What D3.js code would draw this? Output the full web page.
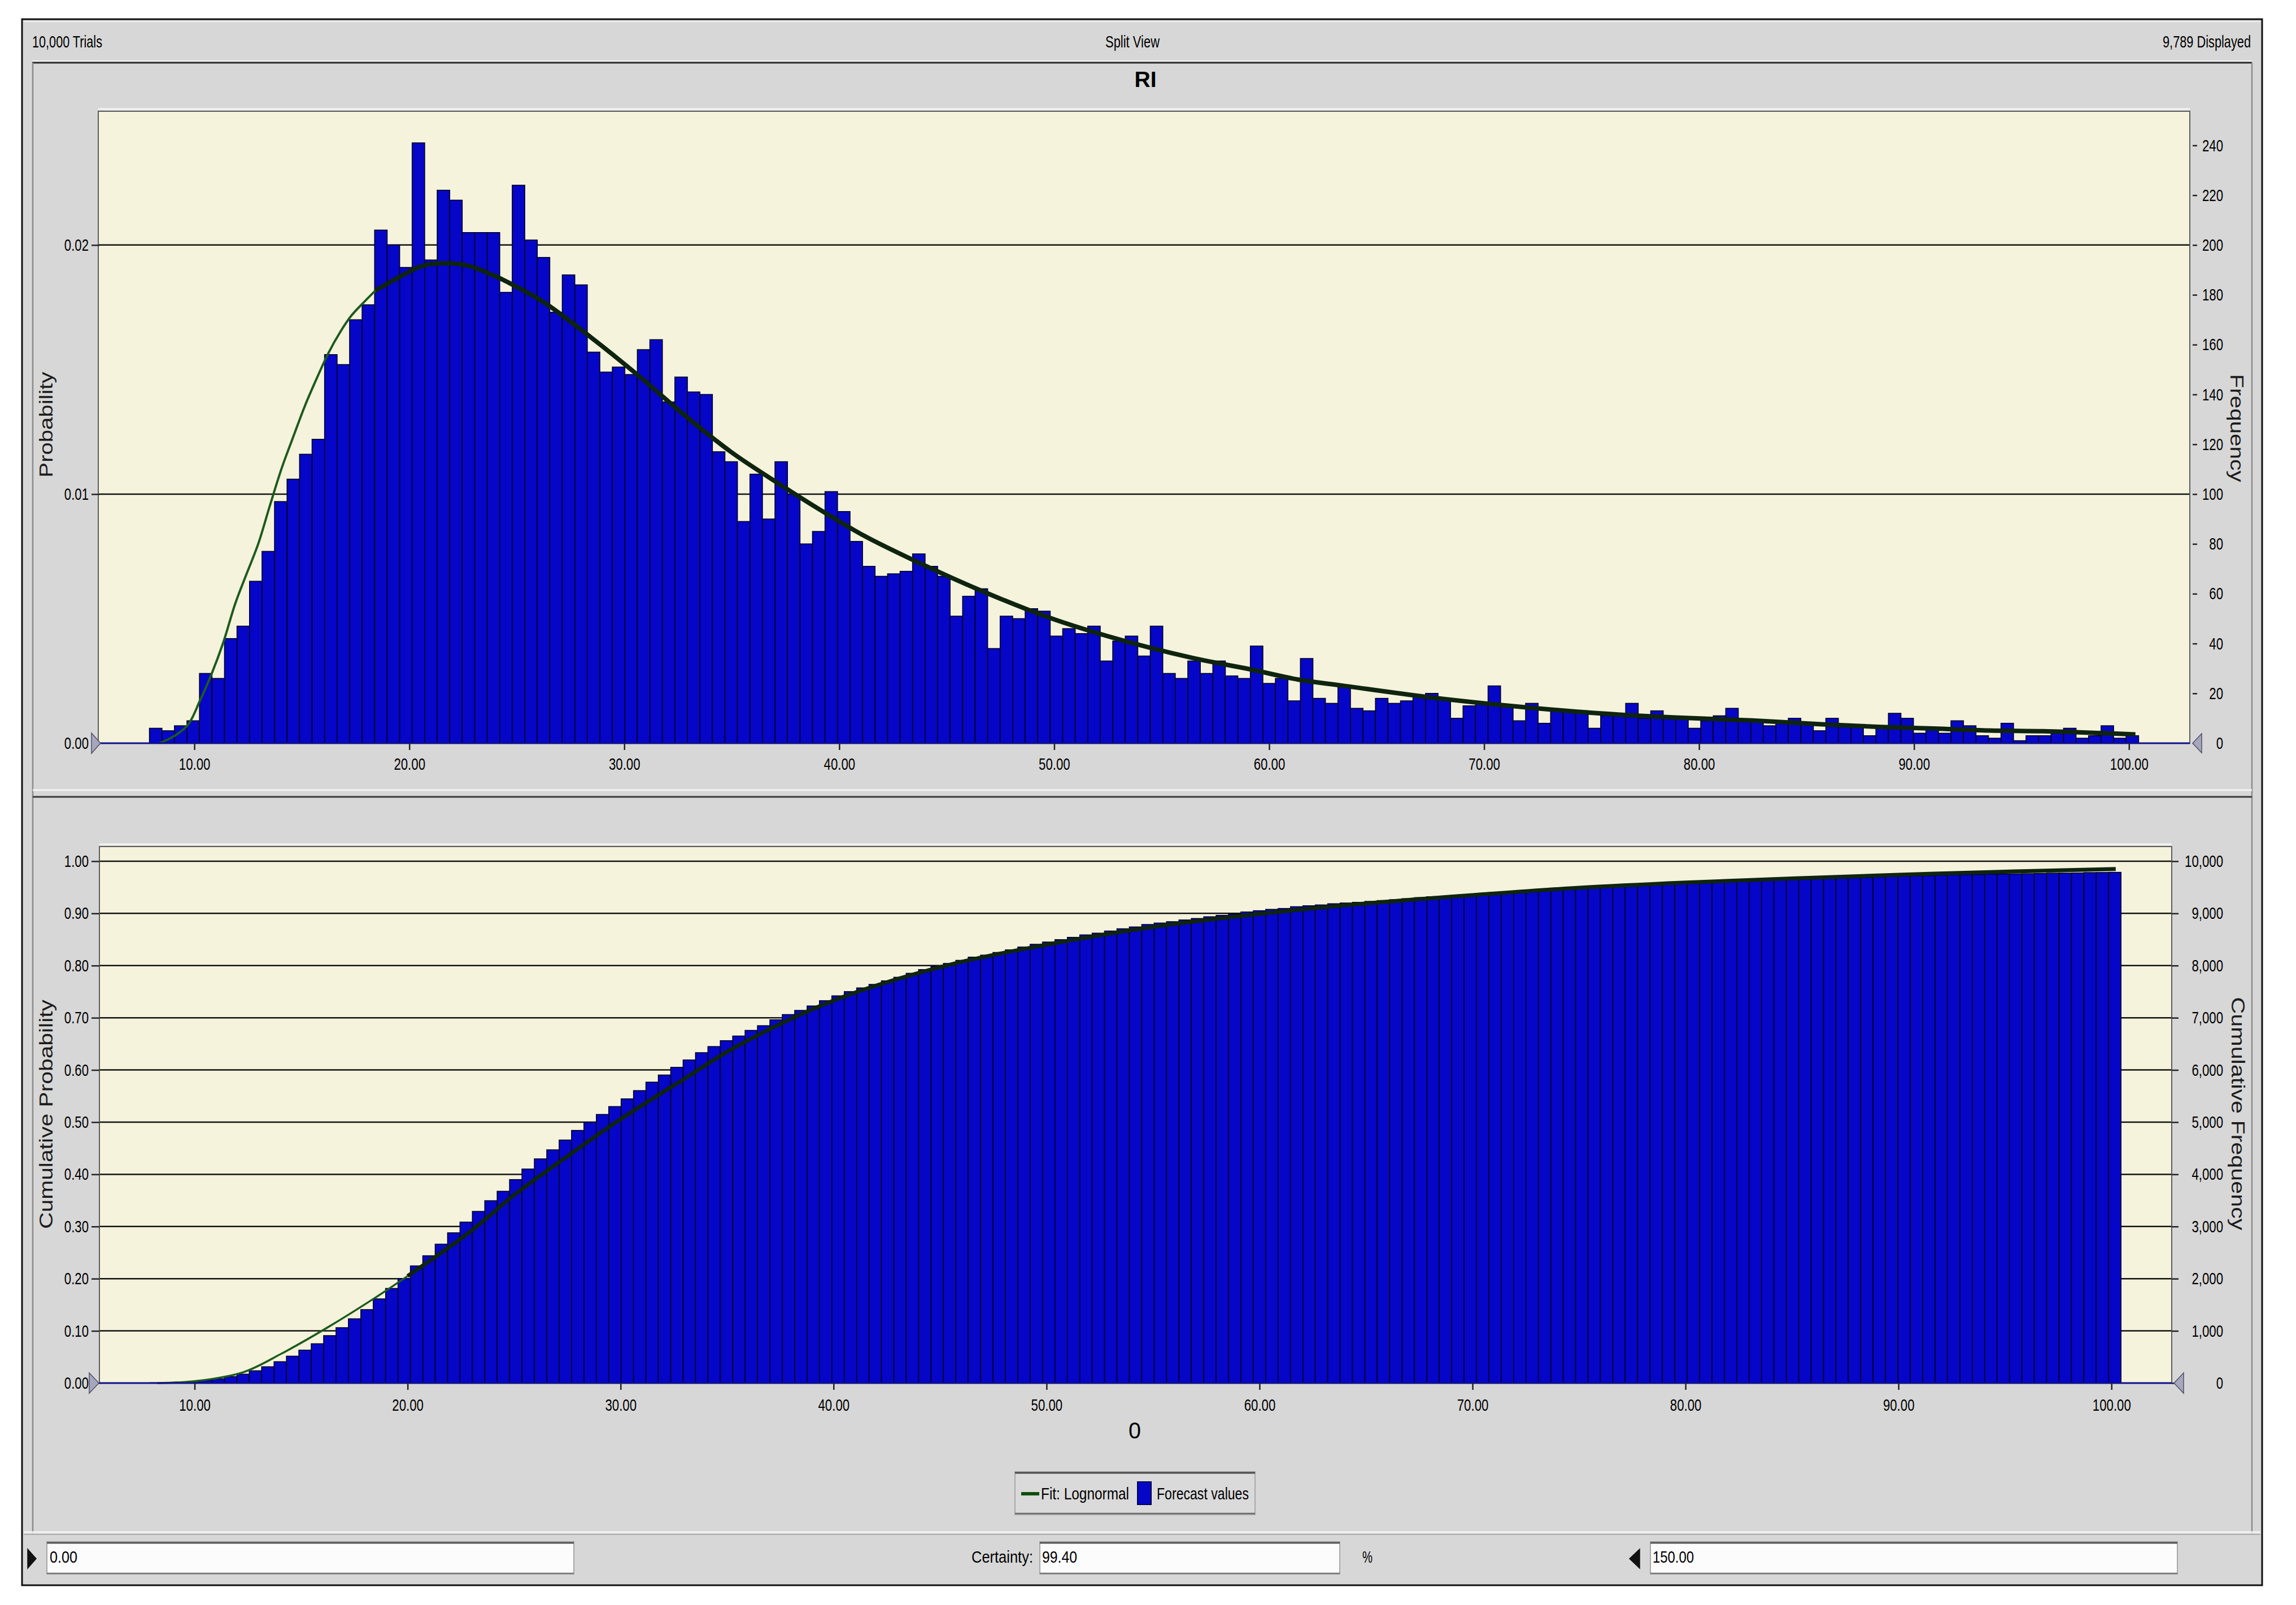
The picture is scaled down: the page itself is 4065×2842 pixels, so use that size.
<!DOCTYPE html>
<html><head><meta charset="utf-8">
<script src="https://cdn.jsdelivr.net/npm/d3@7"></script>
<style>
html,body{margin:0;padding:0;background:#fff;}
svg{display:block;}
text{font-family:"Liberation Sans",Arial,Helvetica,sans-serif;}
</style>
</head><body>
<svg id="c" width="4065" height="2842"></svg>
<script>
// ---------------- DATA ----------------
const headerLeft = "10,000 Trials";
const headerMid = "Split View";
const headerRight = "9,789 Displayed";
const chartTitle = "RI";
const xAxisTitle = "0";
const legendLabels = ["Fit: Lognormal", "Forecast values"];
const certaintyLabel = "Certainty:";
const lowerValue = "0.00";
const certaintyValue = "99.40";
const upperValue = "150.00";

const binStart = 7.91;
const binWidth = 0.582;
const counts = [
  6,5,7,9,28,26,42,47,65,77,97,106,116,122,156,152,170,176,206,200,191,241,194,222,218,205,205,205,181,
  224,202,195,173,188,184,157,149,151,148,158,162,137,147,141,140,117,113,89,108,90,113,100,80,85,101,93,81,71,
  67,68,69,76,71,67,51,59,62,38,51,50,54,53,43,46,44,47,33,41,43,35,47,28,26,33,28,33,27,26,39,24,26,17,
  34,18,16,23,14,13,18,16,17,19,20,18,10,15,16,23,15,9,16,8,13,13,13,6,11,11,16,10,13,10,10,6,9,11,
  14,9,9,7,8,10,8,5,10,7,7,3,7,12,10,4,6,4,9,7,3,2,8,1,3,3,4,6,2,3,7,2,3
];

const xTicks = [10,20,30,40,50,60,70,80,90,100];
const probTicksTop = [0, 0.01, 0.02];
const freqTicksTop = [0,20,40,60,80,100,120,140,160,180,200,220,240];
const cumProbTicks = [0,0.1,0.2,0.3,0.4,0.5,0.6,0.7,0.8,0.9,1.0];
const cumFreqTicks = [0,1000,2000,3000,4000,5000,6000,7000,8000,9000,10000];

// Lognormal fit curve, probability per bin
const fitPdfX = [8.37,9.05,9.71,10.25,10.8,11.34,11.9,12.43,12.97,13.5,14.07,14.6,15.15,15.7,16.24,16.78,17.3,17.88,18.42,19.5,20.6,21.69,22.77,23.86,24.6,26.26,28.44,30.6,32.8,34.97,37.15,39.3,41.15,43.3,46.53,49.74,52.96,56.45,59.1,61.38,63.43,67.3,71.17,75.04,78.9,82.5,85.7,88.3,90.9,93.5,96.0,98.6,100.3];
const fitPdfProb = [0,0.00028,0.00075,0.00169,0.00278,0.00403,0.0056,0.0068,0.0080,0.0095,0.01106,0.0123,0.01356,0.01466,0.01567,0.0165,0.01716,0.0177,0.01817,0.0187,0.01916,0.01927,0.01916,0.0188,0.0185,0.0177,0.0163,0.0148,0.01317,0.01169,0.01044,0.00927,0.00833,0.00741,0.00615,0.00505,0.00418,0.00342,0.00297,0.00255,0.00231,0.00186,0.0015,0.00122,0.00103,0.00091,0.00076,0.00066,0.00059,0.00051,0.00048,0.00041,0.00035];
// Cumulative fit curve
const fitCdfX = [8.24,10.1,12.3,14.06,16.26,18.46,20.0,22.87,25.07,27.3,29.9,32.76,35.4,40,45,50,55,60,65,70,75,80,85,90,95,100.2];
const fitCdfProb = [0,0.004,0.021,0.056,0.107,0.163,0.205,0.288,0.3625,0.4286,0.503,0.577,0.644,0.733,0.797,0.840,0.874,0.899,0.919,0.935,0.949,0.959,0.967,0.974,0.980,0.985];

// ---------------- HELPERS ----------------
const svg = d3.select('#c');
function condense(sel, f){ sel.each(function(){ const w=this.getComputedTextLength(); if(w>0) d3.select(this).attr('textLength',(w*f).toFixed(1)).attr('lengthAdjust','spacingAndGlyphs'); }); }
function label(x,y,txt,o={}){
  const t = svg.append('text').attr('x',x).attr('y',y).text(txt)
    .attr('font-size',o.size||30).attr('fill',o.fill||'#000')
    .attr('text-anchor',o.anchor||'start');
  if(o.weight) t.attr('font-weight',o.weight);
  if(o.w) t.attr('textLength',o.w).attr('lengthAdjust','spacingAndGlyphs');
  if(o.rotate) t.attr('transform',`rotate(${o.rotate},${x},${y})`);
  return t;
}
function hline(x1,x2,y,c,w){ svg.append('line').attr('x1',x1).attr('x2',x2).attr('y1',y).attr('y2',y).attr('stroke',c).attr('stroke-width',w); }
function vline(x,y1,y2,c,w){ svg.append('line').attr('x1',x).attr('x2',x).attr('y1',y1).attr('y2',y2).attr('stroke',c).attr('stroke-width',w); }
function tri(pts,fill,stroke){ svg.append('polygon').attr('points',pts.map(p=>p.join(',')).join(' ')).attr('fill',fill).attr('stroke',stroke).attr('stroke-width',1.5); }

// ---------------- FRAME ----------------
svg.append('rect').attr('width',4065).attr('height',2842).attr('fill','#fff');
svg.append('rect').attr('x',39).attr('y',34).attr('width',3966).attr('height',2773)
  .attr('fill','#d7d7d7').attr('stroke','#111').attr('stroke-width',3);
hline(42,4002,38,'#f0f0f0',2);
hline(57,3987,108,'#f2f2f2',2);
hline(57,3987,111,'#2a2a2a',3);
vline(58,111,2715,'#8c8c8c',2.5);
vline(3987,111,2715,'#8c8c8c',2.5);
hline(58,3987,1399,'#f3f3f3',3);
hline(58,3987,1411,'#3a3a3a',3);
hline(42,4002,2713,'#f4f4f4',3);
hline(42,4002,2717,'#a0a0a0',1.5);

label(57,84,headerLeft,{size:30,w:124});
label(2005,84,headerMid,{size:30,w:96,anchor:'middle'});
label(3985,84,headerRight,{size:30,w:156,anchor:'end'});
label(2028,154,chartTitle,{size:39,weight:'bold',anchor:'middle',w:39});

// ---------------- SCALES ----------------
const xDomain = [5.53, 102.83];
const xTop = d3.scaleLinear().domain(xDomain).range([174,3877]);
const yTopF = d3.scaleLinear().domain([0,253.7]).range([1316,197]);
const yTopP = d3.scaleLinear().domain([0,0.02537]).range([1316,197]);
const xBot = d3.scaleLinear().domain(xDomain).range([176,3845]);
const yBotF = d3.scaleLinear().domain([0,10281]).range([2449,1499]);
const yBotP = d3.scaleLinear().domain([0,1.0281]).range([2449,1499]);

const bins = counts.map((c,i)=>({x0:binStart+i*binWidth, x1:binStart+(i+1)*binWidth, c}));
let acc = 0;
const cumBins = bins.map(b=>{ acc += b.c; return {x0:b.x0, x1:b.x1, c:acc}; });

const BAR_FILL = '#0606c8', BAR_STROKE = '#00001e';
const CREAM = '#f5f3dc';

// ---------------- TOP CHART ----------------
hline(174,3877,193,'#f4f4f4',3);
svg.append('rect').attr('x',174).attr('y',197).attr('width',3703).attr('height',1119).attr('fill',CREAM);
svg.append('g').selectAll('line').data([0.01,0.02]).join('line')
  .attr('x1',174).attr('x2',3877).attr('y1',d=>yTopP(d)).attr('y2',d=>yTopP(d))
  .attr('stroke','#111').attr('stroke-width',2.5);
svg.append('g').selectAll('rect').data(bins).join('rect')
  .attr('x',d=>xTop(d.x0)).attr('width',d=>xTop(d.x1)-xTop(d.x0))
  .attr('y',d=>yTopF(d.c)).attr('height',d=>yTopF(0)-yTopF(d.c))
  .attr('fill',BAR_FILL).attr('stroke',BAR_STROKE).attr('stroke-width',1.6);

const pdfPts = fitPdfX.map((x,i)=>[x,fitPdfProb[i]]);
const pdfLine = d3.line().x(d=>xTop(d[0])).y(d=>yTopP(d[1])).curve(d3.curveCatmullRom.alpha(0.5));
const pdfSplit = fitPdfX.indexOf(18.42);
svg.append('path').attr('d',pdfLine(pdfPts.slice(pdfSplit))).attr('fill','none')
  .attr('stroke','#0f240f').attr('stroke-width',8).attr('stroke-linejoin','round');
svg.append('path').attr('d',pdfLine(pdfPts.slice(0,pdfSplit+1))).attr('fill','none')
  .attr('stroke','#1d5a1d').attr('stroke-width',4).attr('stroke-linejoin','round');

svg.append('rect').attr('x',174).attr('y',197).attr('width',3703).attr('height',1119)
  .attr('fill','none').attr('stroke','#5c5c5c').attr('stroke-width',2);
hline(174,3877,1316,'#10108a',3);

const axTopL = svg.append('g').attr('transform','translate(176,0)')
  .call(d3.axisLeft(yTopP).tickValues(probTicksTop).tickFormat(d3.format('.2f')).tickSize(14).tickPadding(5));
const axTopR = svg.append('g').attr('transform','translate(3877,0)')
  .call(d3.axisRight(yTopF).tickValues(freqTicksTop).tickFormat(d3.format('d')).tickSize(13).tickPadding(0));
axTopR.selectAll('.tick line').attr('x1',5).attr('x2',13);
axTopR.selectAll('.tick text').attr('x',59).attr('text-anchor','end');
const axTopB = svg.append('g').attr('transform','translate(0,1316)')
  .call(d3.axisBottom(xTop).tickValues(xTicks).tickFormat(d3.format('.2f')).tickSize(12).tickPadding(14));

// ---------------- BOTTOM CHART ----------------
hline(176,3845,1495,'#f4f4f4',3);
svg.append('rect').attr('x',176).attr('y',1499).attr('width',3669).attr('height',950).attr('fill',CREAM);
svg.append('g').selectAll('line').data(cumProbTicks.filter(d=>d>0)).join('line')
  .attr('x1',176).attr('x2',3845).attr('y1',d=>yBotP(d)).attr('y2',d=>yBotP(d))
  .attr('stroke','#111').attr('stroke-width',2.5);
svg.append('g').selectAll('rect').data(cumBins).join('rect')
  .attr('x',d=>xBot(d.x0)).attr('width',d=>xBot(d.x1)-xBot(d.x0))
  .attr('y',d=>yBotF(d.c)).attr('height',d=>yBotF(0)-yBotF(d.c))
  .attr('fill',BAR_FILL).attr('stroke',BAR_STROKE).attr('stroke-width',1.6);

const cdfPts = fitCdfX.map((x,i)=>[x,fitCdfProb[i]]);
const cdfLine = d3.line().x(d=>xBot(d[0])).y(d=>yBotP(d[1])).curve(d3.curveCatmullRom.alpha(0.5));
const cdfSplit = fitCdfX.indexOf(20.0);
svg.append('path').attr('d',cdfLine(cdfPts.slice(cdfSplit))).attr('fill','none')
  .attr('stroke','#0f240f').attr('stroke-width',7).attr('stroke-linejoin','round');
svg.append('path').attr('d',cdfLine(cdfPts.slice(0,cdfSplit+1))).attr('fill','none')
  .attr('stroke','#1d5a1d').attr('stroke-width',3.5).attr('stroke-linejoin','round');

svg.append('rect').attr('x',176).attr('y',1499).attr('width',3669).attr('height',950)
  .attr('fill','none').attr('stroke','#5c5c5c').attr('stroke-width',2);
hline(176,3845,2449,'#10108a',3);

const axBotL = svg.append('g').attr('transform','translate(176,0)')
  .call(d3.axisLeft(yBotP).tickValues(cumProbTicks).tickFormat(d3.format('.2f')).tickSize(14).tickPadding(5));
const axBotR = svg.append('g').attr('transform','translate(3845,0)')
  .call(d3.axisRight(yBotF).tickValues(cumFreqTicks).tickFormat(d3.format(',')).tickSize(12).tickPadding(0));
axBotR.selectAll('.tick text').attr('x',91).attr('text-anchor','end');
const axBotB = svg.append('g').attr('transform','translate(0,2449)')
  .call(d3.axisBottom(xBot).tickValues(xTicks).tickFormat(d3.format('.2f')).tickSize(12).tickPadding(16));

[axTopL,axTopR,axTopB,axBotL,axBotR,axBotB].forEach(g=>{
  g.select('.domain').remove();
  g.attr('font-size',30).attr('font-family','"Liberation Sans",Arial,sans-serif');
  g.selectAll('.tick line').attr('stroke','#222').attr('stroke-width',2.5);
  g.selectAll('.tick text').attr('fill','#000');
  condense(g.selectAll('.tick text'),0.74);
});

tri([[162,1298],[178,1316],[162,1334]],'#a6a6bc','#50506a');
tri([[3898,1299],[3882,1316],[3898,1333]],'#a6a6bc','#50506a');
tri([[158,2431],[175,2449],[158,2467]],'#a6a6bc','#50506a');
tri([[3866,2431],[3849,2449],[3866,2467]],'#a6a6bc','#50506a');

label(93,752,'Probability',{size:33,fill:'#1c1c1c',anchor:'middle',rotate:-90,w:187});
label(93,1973,'Cumulative Probability',{size:33,fill:'#1c1c1c',anchor:'middle',rotate:-90,w:406});
label(3949,758,'Frequency',{size:33,fill:'#1c1c1c',anchor:'middle',rotate:90,w:191});
label(3951,1972,'Cumulative Frequency',{size:33,fill:'#1c1c1c',anchor:'middle',rotate:90,w:413});
label(2009,2547,xAxisTitle,{size:40,anchor:'middle',w:22});

// ---------------- LEGEND ----------------
svg.append('rect').attr('x',1797).attr('y',2606).attr('width',425).attr('height',76)
  .attr('fill','#dadada').attr('stroke','#9a9a9a').attr('stroke-width',1.5);
hline(1797,2222,2608,'#4a4a4a',3);
hline(1797,2222,2680,'#6a6a6a',2.5);
hline(1808,1840,2645,'#0c4f0c',6);
label(1843,2655,legendLabels[0],{size:29,w:156});
svg.append('rect').attr('x',2014).attr('y',2624).attr('width',24).attr('height',40)
  .attr('fill',BAR_FILL).attr('stroke','#000050').attr('stroke-width',2);
label(2048,2655,legendLabels[1],{size:29,w:163});

// ---------------- INPUT ROW ----------------
function box(x,w){
  svg.append('rect').attr('x',x).attr('y',2730).attr('width',w).attr('height',57)
    .attr('fill','#fcfcfc').attr('stroke','#a8a8a8').attr('stroke-width',2);
  hline(x,x+w,2732,'#555',3);
  hline(x,x+w,2786,'#7a7a7a',2.5);
}
tri([[49,2743],[64,2760],[49,2777]],'#111','#111');
box(83,933);
label(88,2767,lowerValue,{size:30,w:49});
label(1829,2767,certaintyLabel,{size:30,w:109,anchor:'end'});
box(1841,531);
label(1845,2767,certaintyValue,{size:30,w:62});
label(2412,2767,'%',{size:30,w:18});
tri([[2903,2743],[2885,2760],[2903,2777]],'#111','#111');
box(2922,933);
label(2926,2767,upperValue,{size:30,w:73});
</script>
</body></html>
